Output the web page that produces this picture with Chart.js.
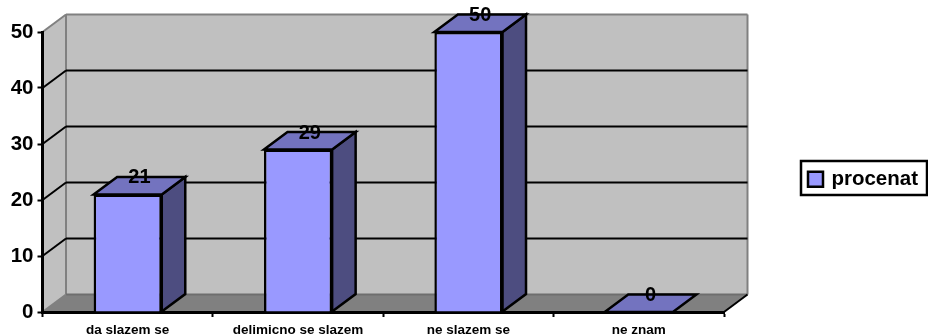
<!DOCTYPE html>
<html lang="en">
<head>
    <meta charset="UTF-8">
    <title>procenat</title>
    <script src="https://cdn.jsdelivr.net/npm/chart.js"></script>
    <style>
        html, body { margin: 0; padding: 0; background: #fff; }
        canvas { display: block; }
    </style>
</head>
<body>
    <canvas id="chart" width="928" height="336"></canvas>

    <script>
        const categories = ['da slazem se', 'delimicno se slazem', 'ne slazem se', 'ne znam'];
        const procenat = [21, 29, 50, 0];
        const yTicks = [0, 10, 20, 30, 40, 50];

        // 3D offset of the back wall from the front plane
        const depthX = 23.5;
        const depthY = -17.5;
        const FONT = '"Liberation Sans", Arial, sans-serif';

        function poly(ctx, pts, fill, stroke, width) {
            ctx.beginPath();
            pts.forEach((p, i) => i ? ctx.lineTo(p[0], p[1]) : ctx.moveTo(p[0], p[1]));
            ctx.closePath();
            if (fill) { ctx.fillStyle = fill; ctx.fill(); }
            if (stroke) { ctx.strokeStyle = stroke; ctx.lineWidth = width; ctx.stroke(); }
        }

        function line(ctx, x1, y1, x2, y2, color, width) {
            ctx.beginPath();
            ctx.moveTo(x1, y1);
            ctx.lineTo(x2, y2);
            ctx.strokeStyle = color;
            ctx.lineWidth = width;
            ctx.stroke();
        }

        const box3d = {
            id: 'box3d',
            afterLayout(chart) {
                // legend sits in the free space right of the plot
                const legend = chart.legend;
                legend.left = 801; legend.right = 918;
                legend.top = 162; legend.bottom = 190;
            },
            beforeDraw(chart) {
                const ctx = chart.ctx;
                const { left, right } = chart.chartArea;
                const y = chart.scales.y;
                const top = y.getPixelForValue(50), bottom = y.getPixelForValue(0);
                ctx.save();
                ctx.fillStyle = '#fff';
                ctx.fillRect(0, 0, chart.width, chart.height);
                // side wall, back wall, floor
                poly(ctx, [[left, top], [left + depthX, top + depthY], [left + depthX, bottom + depthY], [left, bottom]], '#c0c0c0');
                poly(ctx, [[left + depthX, top + depthY], [right + depthX, top + depthY], [right + depthX, bottom + depthY], [left + depthX, bottom + depthY]], '#c0c0c0');
                poly(ctx, [[left, bottom], [left + depthX, bottom + depthY], [right + depthX, bottom + depthY], [right, bottom]], '#808080');
                // wall edges
                line(ctx, left, top, left + depthX, top + depthY, '#808080', 2);
                line(ctx, left + depthX, top + depthY, right + depthX, top + depthY, '#808080', 2);
                line(ctx, left + depthX, top + depthY, left + depthX, bottom + depthY, '#808080', 2);
                line(ctx, right + depthX, top + depthY, right + depthX, bottom + depthY, '#808080', 2);
                line(ctx, left + depthX, bottom + depthY, right + depthX, bottom + depthY, '#6e6e6e', 2);
                line(ctx, left, bottom, left + depthX, bottom + depthY, '#808080', 2);
                // gridlines wrap from the side wall onto the back wall
                yTicks.slice(1, -1).forEach(v => {
                    const py = y.getPixelForValue(v);
                    line(ctx, left, py, left + depthX, py + depthY, '#000', 2);
                    line(ctx, left + depthX, py + depthY, right + depthX, py + depthY, '#000', 2);
                });
                line(ctx, right, bottom, right + depthX, bottom + depthY, '#000', 2);
                ctx.restore();
            },
            beforeDatasetsDraw(chart) {
                const ctx = chart.ctx;
                ctx.save();
                ctx.lineJoin = 'miter';
                chart.getDatasetMeta(0).data.forEach(bar => {
                    const l = bar.x - bar.width / 2, r = bar.x + bar.width / 2;
                    if (bar.base - bar.y > 0) {
                        poly(ctx, [[r, bar.y], [r + depthX, bar.y + depthY], [r + depthX, bar.base + depthY], [r, bar.base]], '#4d4d80', '#000', 2.5);
                    }
                    poly(ctx, [[l, bar.y], [l + depthX, bar.y + depthY], [r + depthX, bar.y + depthY], [r, bar.y]], '#7373bf', '#000', 2.5);
                });
                ctx.restore();
            },
            afterDatasetsDraw(chart) {
                const ctx = chart.ctx;
                ctx.save();
                ctx.font = 'bold 20px ' + FONT;
                ctx.fillStyle = '#000';
                ctx.textAlign = 'center';
                ctx.textBaseline = 'middle';
                chart.getDatasetMeta(0).data.forEach((bar, i) => {
                    ctx.fillText(String(procenat[i]), bar.x + depthX / 2, bar.y + depthY + 1);
                });
                ctx.restore();
            },
            afterDraw(chart) {
                const legend = chart.legend;
                const ctx = chart.ctx;
                ctx.save();
                ctx.strokeStyle = '#000';
                ctx.lineWidth = 2.5;
                ctx.strokeRect(legend.left, 161, legend.right + 9 - legend.left, 34);
                ctx.restore();
            }
        };

        new Chart(document.getElementById('chart'), {
            type: 'bar',
            data: {
                labels: categories,
                datasets: [{
                    label: 'procenat',
                    data: procenat,
                    backgroundColor: '#9999ff',
                    borderColor: '#000',
                    borderWidth: 2.5,
                    barPercentage: 0.4,
                    categoryPercentage: 1
                }]
            },
            options: {
                responsive: false,
                animation: false,
                layout: { padding: { top: 32, right: 204, left: 0, bottom: 0 } },
                plugins: {
                    tooltip: { enabled: false },
                    legend: {
                        position: 'chartArea',
                        align: 'start',
                        labels: {
                            boxWidth: 15,
                            boxHeight: 15,
                            padding: 7,
                            color: '#000',
                            textAlign: 'right',
                            font: { family: FONT, size: 20.5, weight: 'bold' }
                        }
                    }
                },
                scales: {
                    x: {
                        afterFit(scale) { scale.height = 24; },
                        grid: { drawOnChartArea: false, tickLength: 5, tickColor: '#000', tickWidth: 2 },
                        border: { color: '#000', width: 3 },
                        ticks: {
                            color: '#000',
                            padding: 5,
                            maxRotation: 0,
                            font: { family: FONT, size: 13.5, weight: 'bold' }
                        }
                    },
                    y: {
                        min: 0,
                        max: 50,
                        afterFit(scale) { scale.width = 42.5; },
                        afterBuildTicks(scale) { scale.ticks = yTicks.map(value => ({ value })); },
                        grid: { drawOnChartArea: false, tickLength: 5, tickColor: '#000', tickWidth: 2 },
                        border: { color: '#000', width: 3 },
                        ticks: {
                            color: '#000',
                            padding: 4,
                            font: { family: FONT, size: 20.5, weight: 'bold' }
                        }
                    }
                }
            },
            plugins: [box3d]
        });
    </script>
</body>
</html>
